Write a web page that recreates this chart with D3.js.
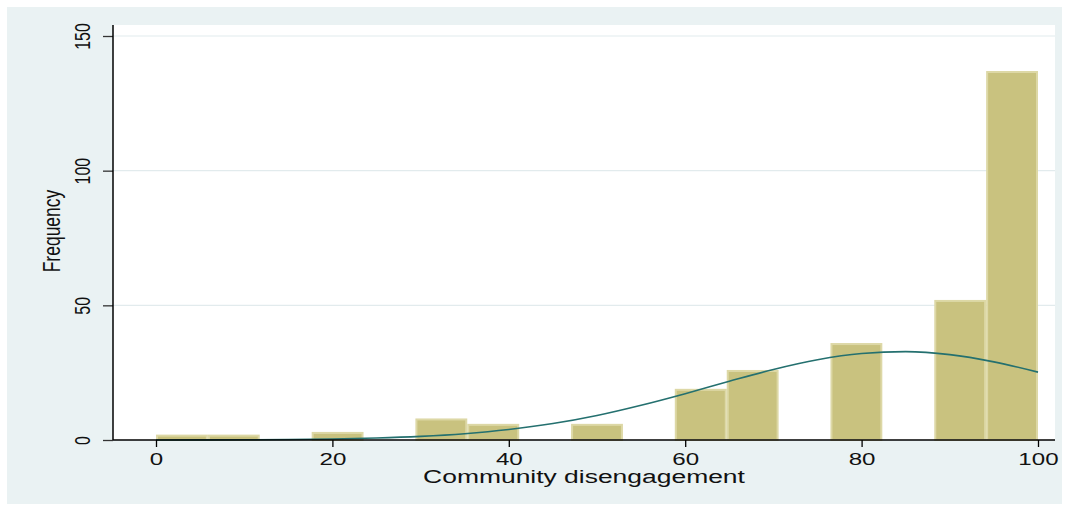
<!DOCTYPE html>
<html>
<head>
<meta charset="utf-8">
<script src="https://cdn.jsdelivr.net/npm/d3@7"></script>
<style>
    html, body { margin: 0; padding: 0; background: #fff; }
    svg { display: block; }
    text { font-family: "Liberation Sans", Arial, Helvetica, sans-serif; fill: #111; }
</style>
</head>
<body>
<div id="chart"></div>
<script>
// histogram bins (lower / upper edges) and frequencies
const binLow  = [0, 5.88, 11.76, 17.65, 23.53, 29.41, 35.29, 41.18, 47.06, 52.94, 58.82, 64.71, 70.59, 76.47, 82.35, 88.24, 94.12];
const binHigh = [5.88, 11.76, 17.65, 23.53, 29.41, 35.29, 41.18, 47.06, 52.94, 58.82, 64.71, 70.59, 76.47, 82.35, 88.24, 94.12, 100];
const frequency = [2, 2, 0, 3, 0, 8, 6, 0, 6, 0, 19, 26, 0, 36, 0, 52, 137];

// overlaid normal curve
const curveX = [0, 5, 10, 15, 20, 25, 30, 35, 40, 45, 50, 55, 60, 65, 70, 75, 80, 85, 90, 95, 100];
const curveY = [0.02, 0.04, 0.08, 0.18, 0.37, 0.72, 1.34, 2.34, 3.89, 6.1, 9.1, 12.9, 17.2, 21.8, 26.2, 29.8, 32.1, 32.8, 31.7, 29.0, 25.2];

const xTicks = [0, 20, 40, 60, 80, 100];
const yTicks = [0, 50, 100, 150];

const W = 1069, H = 505;
const plot = { left: 113, right: 1055, top: 25, bottom: 440 };
const stretch = 1.42;   // text in the reference is widened horizontally

const svg = d3.select("#chart").append("svg")
    .attr("width", W)
    .attr("height", H);

// graph region
svg.append("rect")
    .attr("x", 7).attr("y", 7)
    .attr("width", 1055).attr("height", 497)
    .attr("fill", "#eaf2f3");

svg.append("rect")
    .attr("x", plot.left).attr("y", plot.top)
    .attr("width", plot.right - plot.left)
    .attr("height", plot.bottom - plot.top)
    .attr("fill", "#fff");

const x = d3.scaleLinear().domain([0, 100]).range([156, 1038]);
const y = d3.scaleLinear().domain([0, 150]).range([440, 36]);

// gridlines
svg.append("g")
    .selectAll("line")
    .data(yTicks.filter(d => d > 0))
    .enter().append("line")
    .attr("x1", plot.left).attr("x2", plot.right)
    .attr("y1", d => y(d)).attr("y2", d => y(d))
    .attr("stroke", "#e2ebed")
    .attr("stroke-width", 1.2);

const bins = frequency
    .map((f, i) => ({ x0: binLow[i], x1: binHigh[i], f }))
    .filter(d => d.f > 0);

svg.append("g")
    .selectAll("rect")
    .data(bins)
    .enter().append("rect")
    .attr("x", d => x(d.x0) + 1)
    .attr("y", d => y(d.f) + 1)
    .attr("width", d => x(d.x1) - x(d.x0) - 2)
    .attr("height", d => y(0) - y(d.f) - 1)
    .attr("fill", "#c9c27f")
    .attr("stroke", "#ddd8a6")
    .attr("stroke-width", 2);

const line = d3.line()
    .x((d, i) => x(curveX[i]))
    .y(d => y(d))
    .curve(d3.curveMonotoneX);

svg.append("path")
    .datum(curveY)
    .attr("d", line)
    .attr("fill", "none")
    .attr("stroke", "#24706f")
    .attr("stroke-width", 1.6);

// axes
const xAxis = svg.append("g")
    .attr("transform", `translate(0, ${plot.bottom})`)
    .call(d3.axisBottom(x).tickValues(xTicks).tickSize(7).tickSizeOuter(0));
xAxis.select(".domain").remove();
xAxis.selectAll(".tick line").attr("stroke", "#000").attr("stroke-width", 1.3);
xAxis.selectAll(".tick text")
    .attr("y", null).attr("dy", null)
    .attr("transform", `translate(0, 25) scale(${stretch}, 1)`)
    .style("font-size", "17px")
    .style("font-family", "'Liberation Sans', Arial, sans-serif")
    .attr("fill", "#111");

const yAxis = svg.append("g")
    .attr("transform", `translate(${plot.left}, 0)`)
    .call(d3.axisLeft(y).tickValues(yTicks).tickSize(10).tickSizeOuter(0));
yAxis.select(".domain").remove();
yAxis.selectAll(".tick line").attr("stroke", "#333").attr("stroke-width", 1.3);
yAxis.selectAll(".tick text")
    .attr("x", null).attr("dy", null)
    .attr("text-anchor", "middle")
    .attr("transform", `translate(-23, 0) scale(${stretch}, 1) rotate(-90)`)
    .style("font-size", "16px")
    .style("font-family", "'Liberation Sans', Arial, sans-serif")
    .attr("fill", "#111");

svg.append("line")
    .attr("x1", plot.left).attr("x2", plot.right)
    .attr("y1", plot.bottom).attr("y2", plot.bottom)
    .attr("stroke", "#000").attr("stroke-width", 1.5);

svg.append("line")
    .attr("x1", plot.left).attr("x2", plot.left)
    .attr("y1", plot.top).attr("y2", plot.bottom)
    .attr("stroke", "#000").attr("stroke-width", 1.5);

// axis titles
svg.append("text")
    .attr("text-anchor", "middle")
    .attr("transform", `translate(584, 483) scale(1.47, 1)`)
    .style("font-size", "18px")
    .text("Community disengagement");

svg.append("text")
    .attr("text-anchor", "middle")
    .attr("transform", `translate(60, 231) scale(1.38, 1) rotate(-90)`)
    .style("font-size", "17.5px")
    .text("Frequency");
</script>
</body>
</html>
